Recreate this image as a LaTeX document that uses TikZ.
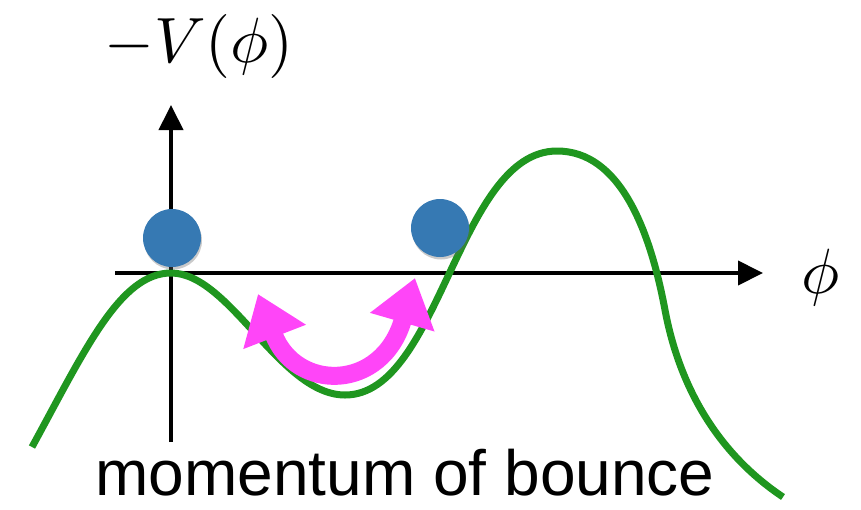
\documentclass[tikz,border=0pt]{standalone}
\usepackage{fontspec}
\setmainfont{Liberation Sans}
\usepackage{tikz}
\usetikzlibrary{arrows.meta,shadows,positioning}
\definecolor{bnGreen}{HTML}{1F961F}
\definecolor{bnBlue}{HTML}{3679B3}
\definecolor{bnPink}{HTML}{FF45F8}
\tikzset{
  bn-axis/.style={-{Triangle[length=25pt,width=24pt]}, line width=4pt, draw=black},
  bn-curve/.style={line width=7pt, draw=bnGreen},
  bn-ball/.style={circle, fill=bnBlue, minimum size=58pt, inner sep=0pt,
    drop shadow={fill=black!60, opacity=0.35, shadow xshift=1pt, shadow yshift=-2.5pt}},
  bn-push/.style={{Triangle[length=46pt,width=64pt]}-{Triangle[length=46pt,width=64pt]},
    line width=18pt, draw=bnPink},
  bn-math/.style={font=\normalsize, scale=6.4, inner sep=0pt},
  bn-text/.style={font=\fontsize{64}{66}\selectfont, inner sep=0pt}
}

\begin{document}
\begin{tikzpicture}[x=1pt, y=-1pt]
\useasboundingbox (0,0) rectangle (861,509);
% --- axes ---
\coordinate (xleft) at (115,273);
\coordinate (xright) at (763,273);
\coordinate (ybottom) at (171,442);
\coordinate (ytop) at (171,105);
\draw[bn-axis] (xleft) -- (xright);
\draw[bn-axis] (ybottom) -- (ytop);

% --- potential ---
\draw[bn-curve] (32,447) .. controls (85,350) and (120,273) .. (171,273)
  .. controls (230,273) and (280,395) .. (345,395)
  .. controls (440,395) and (458,151) .. (557,151)
  .. controls (620,151) and (650,230) .. (665,310)
  .. controls (680,390) and (720,455) .. (783,497);

% --- balls ---
\node[bn-ball] (ballL) at (172,238) {};
\node[bn-ball] (ballR) at (440,228) {};

% --- bounce ---
\coordinate (pushL) at (258,294);
\coordinate (pushR) at (415,278);
\draw[bn-push] (pushL) .. controls (296,392) and (382,392) .. (pushR);

% --- labels ---
\node[bn-math, anchor=base west] (vlabel) at (103,62) {$-V(\phi)$};
\node[bn-math, anchor=base] (philabel) at (821,293) {$\phi$};
\node[bn-text, anchor=base] (caption) at (405,495) {momentum of bounce};
\end{tikzpicture}
\end{document}
